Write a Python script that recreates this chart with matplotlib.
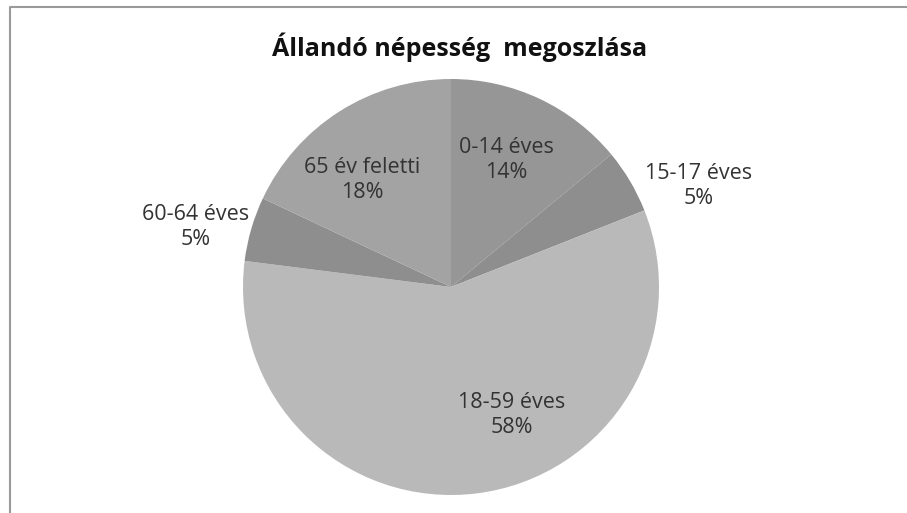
import matplotlib.pyplot as plt

# Age groups and share of the permanent population (%)
groups = ['0-14 éves', '15-17 éves', '18-59 éves', '60-64 éves', '65 év feletti']
shares = [14, 5, 58, 5, 18]
colors = ['#969696', '#8e8e8e', '#b9b9b9', '#8e8e8e', '#a3a3a3']

# label centres in pixels (x from left, y from top)
label_xy = [(506, 160), (699, 186), (512, 415), (196, 227), (362, 180)]

W, H = 907, 513
fig = plt.figure(figsize=(W / 100, H / 100), dpi=100)
ax = fig.add_axes([0, 0, 1, 1])

# frame of the chart area
ax.plot([10, 10, W], [0, H - 7, H - 7], color='#9a9a9a', lw=1.5)

ax.pie(shares, colors=colors, startangle=90, counterclock=False,
       center=(451, H - 287), radius=208, frame=True,
       wedgeprops={'linewidth': 0})
ax.set_xlim(0, W)
ax.set_ylim(0, H)
ax.set_aspect('equal')
ax.axis('off')

for g, s, (x, y) in zip(groups, shares, label_xy):
    ax.text(x, H - y, g + '\n' + str(s) + '%', ha='center', va='center',
            fontsize=15.5, color='#333333', family='Open Sans', linespacing=1.2)

ax.text(460, H - 47, 'Állandó népesség  megoszlása', ha='center', va='center',
        fontsize=18, fontweight='bold', color='#111111', family='Open Sans')

fig.savefig('out.png', dpi=100)
